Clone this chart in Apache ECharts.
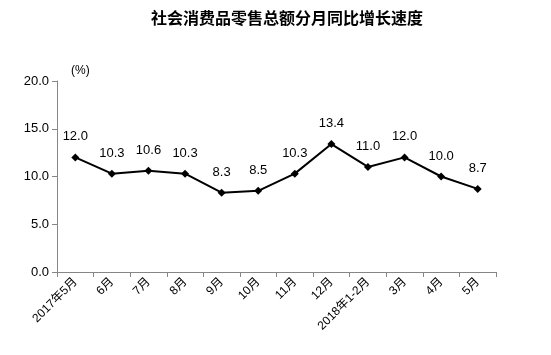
<!DOCTYPE html>
<html><head><meta charset="utf-8">
<script src="https://cdn.jsdelivr.net/npm/echarts@6/dist/echarts.min.js"></script>
<style>html,body{margin:0;padding:0;background:#fff}#c{width:551px;height:355px}</style>
</head><body><div id="c"></div>
<script>
const categories = ['2017年5月','6月','7月','8月','9月','10月','11月','12月','2018年1-2月','3月','4月','5月'];
const values = [12.0,10.3,10.6,10.3,8.3,8.5,10.3,13.4,11.0,12.0,10.0,8.7];
const yTicks = {min:0,max:20,interval:5};
const titleText = '社会消费品零售总额分月同比增长速度';
const unitText = '(%)';

const chart = echarts.init(document.getElementById('c'));
chart.setOption({
  animation:false,
  backgroundColor:'#fff',
  title:{text:titleText,left:282,top:5,textAlign:'center',
    textStyle:{fontFamily:'Noto Sans CJK SC',fontWeight:'bold',fontSize:16,color:'#000'}},
  grid:{left:57,right:55,top:81,bottom:83},
  xAxis:{type:'category',data:categories,boundaryGap:true,
    axisLine:{lineStyle:{color:'#868686'}},
    axisTick:{show:true,length:5,lineStyle:{color:'#868686'}},
    axisLabel:{rotate:45,fontSize:12,color:'#000',fontFamily:'Liberation Sans, Noto Sans CJK SC',margin:8,interval:0},
  },
  yAxis:{type:'value',min:yTicks.min,max:yTicks.max,interval:yTicks.interval,
    name:unitText,nameLocation:'end',nameGap:4,
    nameTextStyle:{fontSize:12,color:'#000',align:'left',padding:[0,0,0,14],fontFamily:'Liberation Sans'},
    axisLine:{show:true,lineStyle:{color:'#868686'}},
    axisTick:{show:true,length:5,lineStyle:{color:'#868686'}},
    splitLine:{show:false},
    axisLabel:{fontSize:13,color:'#000',fontFamily:'Liberation Sans',formatter:v=>v.toFixed(1),margin:8}
  },
  series:[{type:'line',data:values,symbol:'diamond',symbolSize:8,
    lineStyle:{color:'#000',width:2},itemStyle:{color:'#000'},
    label:{show:true,position:'top',distance:10,fontSize:13,color:'#000',fontFamily:'Liberation Sans',formatter:p=>p.value.toFixed(1)}
  }]
});
</script></body></html>
